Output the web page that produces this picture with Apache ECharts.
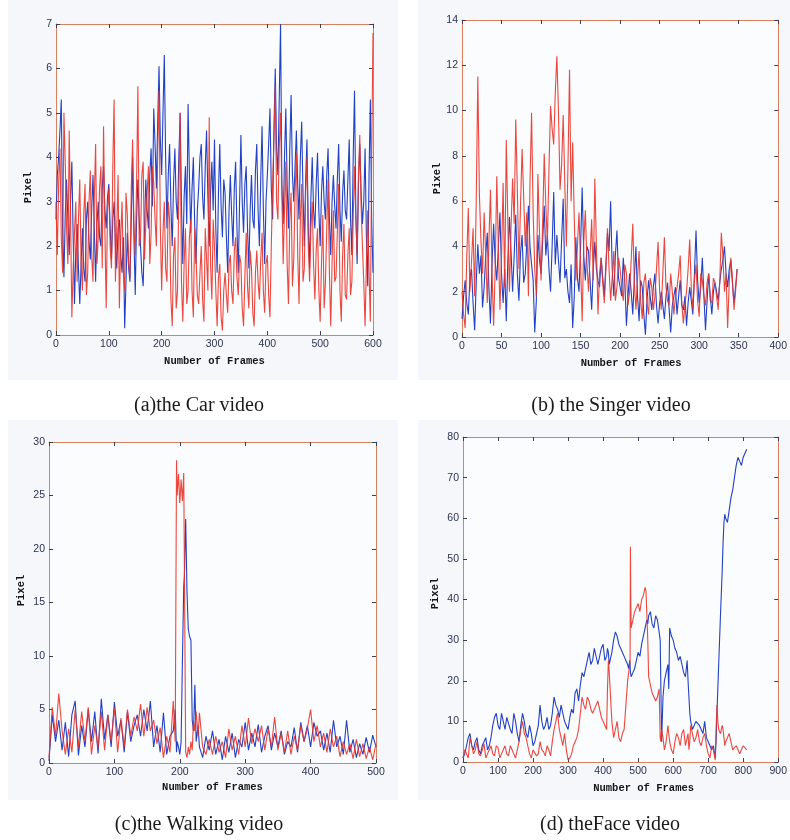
<!DOCTYPE html>
<html><head><meta charset="utf-8">
<script src="https://cdn.jsdelivr.net/npm/echarts@6/dist/echarts.min.js"></script>
<style>html,body{margin:0;padding:0;background:#fff}#c{width:790px;height:840px}</style>
</head><body><div id="c"></div>
<script>
// ---- (a) Car video: frames 0..600, step 5 (+ in-between readings at half steps)
const carStep = 5;
const carRed = [3.0,3.4,2.2,5.0,2.4,4.6,0.4,2.3,1.2,3.5, 1.0,3.4,1.4,3.7,1.2,4.3,2.2,3.8,4.7,0.6, 3.3,1.5,5.3,2.4,0.6,3.0,1.0,2.7,1.3,4.4, 1.8,5.6,2.2,3.9,2.5,3.8,2.3,3.4,2.0,5.5, 1.0,3.0,1.2,2.6,0.2,2.2,1.0,5.0,0.3,2.4, 1.0,2.6,0.4,1.8,0.7,2.0,0.3,1.7,4.9,0.8, 2.0,0.2,1.6,0.1,1.4,0.5,1.8,0.7,2.2,0.9, 1.6,0.2,2.3,0.6,1.5,0.2,1.9,0.8,2.3,0.5, 1.8,0.4,3.4,5.6,2.6,5.0,1.6,3.9,0.7,3.2, 1.7,4.1,0.7,3.4,1.5,4.0,1.2,3.0,0.8,2.4, 0.3,2.7,1.2,3.5,0.2,2.8,1.3,3.4,0.3,2.5, 0.8,2.4,1.2,3.8,1.8,4.5,2.0,0.2,2.8,0.3, 6.8];
const carRedMid = [1.8,4.2,1.4,3.9,1.6,2.8,1.5,3.0,2.6,1.6, 2.7,0.9,3.0,1.8,3.1,1.6,3.3,1.5,2.4,2.8, 2.0,3.8,1.2,3.6,2.2,1.4,3.2,1.6,3.3,2.5, 3.4,2.0,3.6,1.7,3.2,1.6,3.8,2.6,4.1,2.4, 2.3,1.5,3.0,0.8,1.8,0.6,3.2,1.2,1.6,0.7, 2.2,1.0,2.4,0.9,1.4,0.8,2.4,1.0,1.6,2.6, 1.0,1.3,0.4,1.0,0.9,1.6,1.0,1.9,1.3,1.8, 0.6,1.3,1.1,1.9,0.5,1.4,1.2,1.7,1.0,1.6, 0.9,2.0,4.4,3.0,4.2,3.2,2.8,1.6,2.6,1.1, 3.2,1.8,2.6,1.2,3.2,2.0,2.4,1.6,1.9,1.0, 1.6,0.6,2.4,1.4,1.6,1.2,2.3,1.0,1.8,0.9, 1.8,0.9,2.6,2.6,3.6,2.9,1.2,1.6,1.4,4.0];
const carBlue = [2.6,4.0,5.3,1.3,3.5,1.8,3.9,0.7,2.5,0.7, 2.4,1.2,3.0,1.7,3.6,1.2,3.0,2.0,3.8,2.4, 3.4,1.7,3.0,1.5,2.6,1.4,0.15,2.3,1.2,4.0, 0.9,3.5,2.0,1.1,3.5,2.4,4.2,5.1,3.3,6.05, 3.6,6.3,2.4,4.3,2.0,4.2,2.6,5.0,1.6,3.8, 5.2,2.3,4.0,1.6,3.3,4.3,2.6,4.6,2.0,3.9, 4.4,1.4,4.3,2.2,3.2,1.4,3.6,2.0,3.9,1.4, 4.5,2.3,3.8,1.5,3.6,2.4,4.3,2.0,4.7,1.6, 3.6,5.1,2.6,6.0,3.6,7.0,2.5,5.1,2.4,5.4, 3.0,4.6,2.6,4.8,2.0,4.4,1.5,4.0,2.4,4.1, 2.0,3.8,2.6,4.2,1.8,3.6,2.4,4.3,2.1,3.7, 2.6,4.4,1.8,5.5,1.6,4.3,2.5,4.2,1.1,5.3, 1.4];
const carBlueMid = [3.6,4.6,2.4,2.7,2.6,3.0,2.2,1.9,1.5,1.6, 1.5,2.6,2.1,2.8,2.4,2.5,2.2,3.3,2.8,3.1, 2.4,2.6,2.0,2.4,1.8,2.2,1.2,1.5,2.6,2.2, 2.6,2.6,1.4,2.4,2.8,3.6,2.9,4.3,4.8,4.4, 5.0,4.0,3.6,2.9,3.4,3.0,4.0,2.9,3.1,2.5, 3.6,3.3,2.5,2.8,4.0,3.1,3.8,3.1,3.2,2.8, 2.4,3.2,2.9,3.5,2.2,2.8,2.7,3.3,2.4,3.0, 3.0,3.4,2.4,2.8,2.6,3.7,2.8,3.5,2.8,3.0, 4.3,3.3,4.6,4.2,5.3,3.4,4.0,3.4,4.2,3.6, 3.8,3.4,4.0,3.2,3.5,2.4,3.1,2.8,3.4,2.8, 3.2,3.0,3.6,2.6,3.0,2.9,3.5,2.8,3.2,2.8, 3.5,2.6,4.0,2.8,3.4,3.2,3.0,2.2,3.6,2.6];

// ---- (b) Singer video: frames 0..348, step 4 (+ half steps)
const singerStep = 4;
const singerRed = [2.0,0.4,5.7,3.3,1.8,11.5,4.2,5.5,1.5,6.5, 0.5,7.1,1.2,6.8,8.7,2.0,7.0,9.6,3.0,8.3, 4.0,1.8,9.9,3.0,7.2,2.5,8.1,4.2,10.2,8.5, 12.4,6.5,9.8,4.0,11.8,8.6,2.5,5.5,0.7,5.6, 2.0,5.2,7.0,1.0,3.5,1.5,4.8,1.6,3.8,2.2, 3.0,1.6,2.8,2.0,5.0,1.2,3.8,0.8,2.8,1.0, 2.2,1.8,4.2,1.2,4.4,1.6,2.8,1.0,2.2,3.6, 0.6,2.0,4.3,1.2,3.2,0.9,2.5,1.4,2.8,1.5, 2.4,1.2,4.6,2.0,0.4,3.5,1.2,3.0];
const singerRedMid = [1.0,3.5,2.0,4.8,6.0,6.3,2.8,3.6,4.2,2.8, 3.0,4.0,3.5,2.2,5.0,4.8,5.0,6.5,5.8,6.2, 5.5,6.8,5.5,1.8,4.6,5.0,5.8,7.4,9.2,10.8, 10.0,7.6,6.8,7.5,6.0,5.2,4.0,3.2,4.2,3.3, 3.6,2.5,4.0,2.8,2.4,3.0,3.0,2.6,1.6,3.5, 2.2,3.2,1.4,3.4,2.4,2.6,1.6,2.4,1.5,2.6, 1.2,3.0,2.0,2.8,2.2,1.4,2.0,1.8,2.8,1.5, 1.4,3.0,2.2,2.5,1.6,2.8,1.8,2.4,1.6,2.6, 1.8,2.4,3.6,2.8,2.4,2.6,2.0];
const singerBlue = [0.8,2.5,1.0,3.0,0.3,4.1,3.6,2.2,4.6,0.6, 5.0,2.5,5.5,1.5,0.7,5.3,2.0,5.4,1.6,4.5, 2.8,5.8,3.2,0.2,4.5,2.8,5.8,4.5,2.0,6.4, 4.5,2.4,6.1,3.0,1.5,0.4,4.4,2.0,6.6,2.5, 3.8,1.2,4.2,2.5,3.5,1.8,4.6,6.0,1.8,4.7, 2.2,3.5,0.5,2.8,1.0,4.0,0.7,2.2,0.1,2.5, 1.2,2.8,0.6,2.0,0.8,2.4,0.2,1.8,1.0,2.5, 1.2,0.5,2.2,1.0,4.7,1.5,3.5,0.3,2.8,1.0, 2.4,1.6,3.0,4.0,2.2,3.4,1.5,3.0];
const singerBlueMid = [1.8,1.5,2.6,1.5,2.4,2.8,1.3,3.6,2.2,3.2, 3.3,4.0,2.8,3.0,3.4,3.8,3.6,2.8,3.7,2.4, 4.2,4.0,2.5,1.6,3.4,4.2,3.6,3.0,4.0,3.2, 3.4,4.3,2.6,2.0,3.2,1.8,2.6,4.0,3.6,4.0, 2.5,3.0,3.0,2.2,2.6,3.2,3.8,3.0,3.6,2.6, 1.8,2.4,1.8,2.0,2.6,1.8,2.5,1.0,1.6,1.8, 2.2,1.4,1.5,1.4,1.8,1.2,1.4,2.2,1.8,1.4, 1.8,1.5,1.6,2.8,2.5,2.2,1.8,1.6,1.8,2.0, 2.0,2.4,3.4,2.8,3.0,2.4,2.2];

// ---- (c) Walking video
const walkSpikeFrames = [190,193,195,196,198,200,202,204,206,207,209,211,213,215,217,219,221,223,225,228];
const walkRed = [0.5,5.2,2.5,6.5,3.0,0.8,3.2,1.0,5.0,1.5, 4.8,2.0,5.2,0.8,3.5,1.4,4.8,1.2,4.5,2.0, 5.2,1.0,4.2,1.5,5.0,2.5,4.3,3.0,5.5,2.5, 5.2,3.0,4.0,1.8,3.3,0.5,2.5,1.0,
  5.8,2.0,28.3,25.0,27.0,24.3,26.5,24.5,27.1,18.5,1.0,0.5,1.5,0.8,2.0,1.2,4.0,3.0,4.8,2.5,
  4.7,1.5,0.8,2.2,0.8,2.5,1.0,2.0,0.5,3.2, 1.2,2.5,0.8,3.5,1.5,4.2,1.8,3.2,2.0,3.5, 1.2,3.2,1.5,4.3,1.2,2.8,1.0,3.0,0.8,2.5, 1.2,3.5,2.0,3.2,5.0,2.0,3.5,1.5,2.8,1.0, 3.2,1.5,2.5,0.6,2.0,0.8,1.8,0.4,2.2,0.6, 1.8,0.4,1.5,0.3,1.8];
const walkBlue = [0.2,4.5,2.0,4.0,1.2,3.8,0.6,4.5,5.8,0.7, 3.5,1.5,5.0,2.0,4.8,0.9,6.0,2.2,4.5,1.5, 5.7,2.5,4.0,1.0,4.8,2.0,3.5,4.5,2.5,5.0, 3.0,5.8,1.5,3.5,1.0,4.7,0.8,2.5,
  3.0,5.0,1.0,2.0,1.5,0.8,2.0,9.5,16.5,17.5,22.8,16.0,12.5,11.8,11.5,4.0,3.0,7.3,2.0,3.5,
  1.5,0.5,2.5,1.2,3.0,0.8,2.2,0.3,2.5,1.0, 2.8,0.5,2.2,1.5,3.8,1.2,2.8,1.5,3.6,1.0, 2.5,3.5,1.2,2.8,1.5,3.0,0.8,2.0,1.5,3.3, 1.0,3.8,2.0,3.5,1.5,3.8,2.5,3.0,1.2,2.8, 1.0,4.0,1.5,2.5,0.8,4.0,1.0,2.2,0.5,1.8, 0.8,2.4,1.0,2.6,1.5];

// ---- (d) Face video
const faceFrames = [0,10,20,30,40,50,60,70,80,90, 100,110,120,130,140,150,160,170,180,190, 200,210,220,230,240,250,260,270,280,290, 300,310,320,330,340,350,360,370,380,390, 400,410,415,420,430,440,450,460,470,476, 478,480,490,500,510,520,525,530,540,550, 560,563,567,575,585,590,600,610,620,630, 640,645,650,660,670,680,690,700,710,720, 725,730,740,745,750,760,770,780,790,800, 810];
const faceBlue = [1,4,7,3,6,2,5,3,6,11, 9,12,8,11,7,10,5,12,7,9, 4,7,14,8,11,9,16,13,14,10, 8,13,17,15,22,23,27,25,28,26, 29,26,27,25,30,31,28,26,24,25, 22,21,23,27,29,33,35,36,34,36, 32,30,5,20,24,33,30,27,26,22, 25,16,10,9,10,8,10,5,3,1, 12,24,47,59,60,62,67,73,74,75, 77];
const faceBlueMid = [2,6,4,5,3,4,6,4,9,12, 8,10,11,8,12,7,9,10,6,7, 5,9,10,9,8,12,14,11,12,9, 11,12,18,19,21,25,24,28,24,28, 25,28,24,27,32,29,27,25,23,24, 22,22,25,26,31,33,34,37,33,35, 31,18,16,22,18,31,28,25,24,21, 20,12,8,10,9,7,6,4,4,5, 18,36,54,61,59,65,70,75,73,76];
const faceRed = [1,3,6,2,5,1.5,4.5,2,4,1.5, 3.5,2,4,1.5,3,1,5,10,6,2, 3,1.5,5,2.5,4,1.5,8,12,6,7, 0.5,2,5,8,16,13,15,12,14,13, 10,8,25,18,6,10,5,8,20,24, 53,33,37,39,40,43,42,21,17,15, 18,6,8,3,9,5,2,7,4,8, 6,3,9,5,8,4,7,2,4,0.5, 14,8,9,6,5,7,3,4,2,4, 3];
const faceRedMid = [3,1,4,3,2,3,1,3,2,4, 1,3,2,4,2,3,8,7,4,1, 3,2,3,1.5,3,5,10,8,4,3, 1,4,6,12,14,16,13,12,15,11, 9,18,22,10,8,6,7,14,22,25, 40,35,38,37,41,42,30,19,16,16, 12,5,6,5,7,3,5,6,7,4, 7,5,7,6,5,6,4,1,3,8, 10,7,8,4,6,5,3,3,3,4];

const captions = ['(a)the Car video','(b) the Singer video','(c)the Walking video','(d) theFace video'];

// frame lists
const carFrames = carRed.map((_, i) => i * carStep);
const singerFrames = singerRed.map((_, i) => i * singerStep);
const walkFrames = [];
for (let f = 0; f <= 185; f += 5) walkFrames.push(f);
walkFrames.push(...walkSpikeFrames);
for (let f = 230; f <= 500; f += 5) walkFrames.push(f);

// interleave readings taken on the frame grid with readings taken between grid frames
function pairs(frames, vals, mids) {
  const out = [];
  for (let k = 0; k < frames.length; k++) {
    out.push([frames[k], vals[k]]);
    if (mids && k < frames.length - 1) out.push([(frames[k] + frames[k + 1]) / 2, mids[k]]);
  }
  return out;
}

const BORDER = '#d9805e', TICK = '#3a3f55', LABEL = '#2b3352';
const BLUE = '#2341c4', RED = '#ea3329';

const panels = [
  {grid:{left:56,top:24,width:317,height:311}, xMax:600, xInt:100, yMax:7, yInt:1, red:pairs(carFrames,carRed,carRedMid), blue:pairs(carFrames,carBlue,carBlueMid), yGap:22, xGap:21, xPad:[0,0,0,0], yPad:[0,16,0,0], cap:[199,406]},
  {grid:{left:462,top:20,width:323,height:317}, xMax:400, xInt:50, yMax:14, yInt:2, red:pairs(singerFrames,singerRed,singerRedMid), blue:pairs(singerFrames,singerBlue,singerBlueMid), yGap:17, xGap:21, xPad:[0,0,0,22], yPad:[0,0,0,0], cap:[611,406]},
  {grid:{left:49,top:442,width:327,height:321}, xMax:500, xInt:100, yMax:30, yInt:5, red:pairs(walkFrames,walkRed), blue:pairs(walkFrames,walkBlue), yGap:22, xGap:19, xPad:[0,0,0,0], yPad:[0,0,0,24], cap:[199,825]},
  {grid:{left:463,top:437,width:323,height:325}, xMax:900, xInt:100, yMax:80, yInt:10, red:pairs(faceFrames,faceRed,faceRedMid), blue:pairs(faceFrames,faceBlue,faceBlueMid), yGap:22, xGap:21, xPad:[0,0,0,46], yPad:[0,0,0,12], cap:[610,825]}
];

const nameStyle = {fontFamily:'Liberation Mono', fontWeight:'bold', fontSize:10.5, color:'#151515'};
const labelStyle = {color:LABEL, fontSize:10.5, fontFamily:'Liberation Sans', margin:4};

const grids = [], xAxes = [], yAxes = [], series = [], graphics = [];
panels.forEach((p, i) => {
  grids.push(Object.assign({show:true, backgroundColor:'#fbfcfe', borderWidth:0}, p.grid));
  const common = {gridIndex:i, type:'value', min:0, splitLine:{show:false},
    axisLine:{show:true, onZero:false, lineStyle:{color:BORDER, width:1}},
    axisTick:{show:true, inside:true, length:4, lineStyle:{color:TICK}}};
  xAxes.push(Object.assign({}, common, {max:p.xMax, interval:p.xInt, position:'bottom',
    axisLabel:labelStyle, name:'Number of Frames', nameLocation:'middle', nameGap:p.xGap,
    nameTextStyle:Object.assign({padding:p.xPad}, nameStyle)}));
  xAxes.push(Object.assign({}, common, {max:p.xMax, interval:p.xInt, position:'top', axisLabel:{show:false}}));
  yAxes.push(Object.assign({}, common, {max:p.yMax, interval:p.yInt, position:'left',
    axisLabel:labelStyle, name:'Pixel', nameLocation:'middle', nameGap:p.yGap,
    nameTextStyle:Object.assign({padding:p.yPad}, nameStyle)}));
  yAxes.push(Object.assign({}, common, {max:p.yMax, interval:p.yInt, position:'right', axisLabel:{show:false}}));
  series.push({type:'line', xAxisIndex:2*i, yAxisIndex:2*i, showSymbol:false, symbol:'none',
    lineStyle:{color:BLUE, width:1.1}, data:p.blue, z:2});
  series.push({type:'line', xAxisIndex:2*i, yAxisIndex:2*i, showSymbol:false, symbol:'none',
    lineStyle:{color:RED, width:1.1, opacity:0.9}, data:p.red, z:3});
  graphics.push({type:'text', x:p.cap[0], y:p.cap[1], style:{text:captions[i], font:'20px "Liberation Serif"', fill:'#1a1a1a', textAlign:'center', textVerticalAlign:'middle'}});
});
// panel backgrounds
[[8,0,390,380],[418,0,372,380],[8,420,390,380],[418,420,372,380]].forEach(r => {
  graphics.push({type:'rect', z:-10, shape:{x:r[0],y:r[1],width:r[2],height:r[3]}, style:{fill:'#f6f7fb'}, silent:true});
});

const chart = echarts.init(document.getElementById('c'), null, {renderer:'canvas'});
chart.setOption({animation:false, backgroundColor:'#ffffff', grid:grids, xAxis:xAxes, yAxis:yAxes, series:series, graphic:graphics});
</script></body></html>
